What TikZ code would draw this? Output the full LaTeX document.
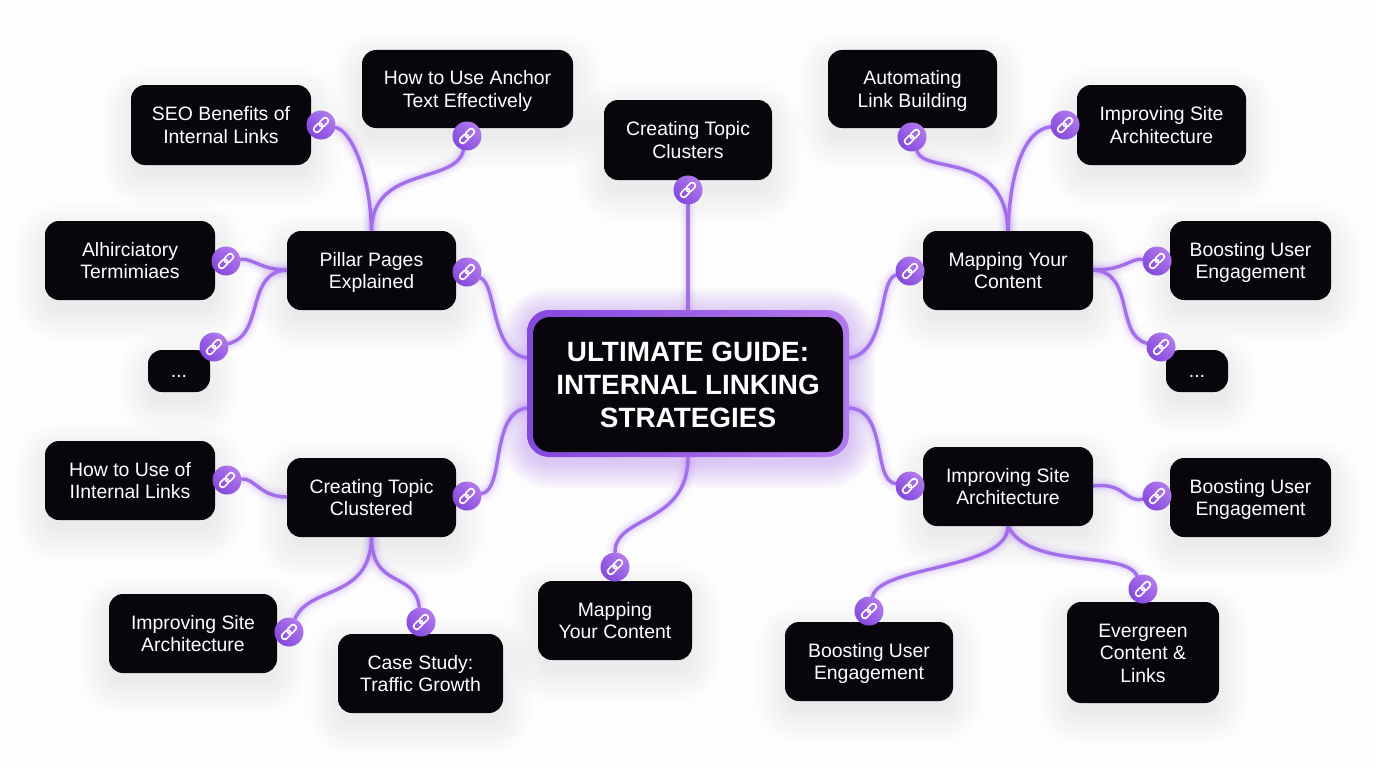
\documentclass[tikz,border=0pt]{standalone}
\usepackage{fontspec}
\setmainfont{Liberation Sans}
\usetikzlibrary{calc,backgrounds}
\pgfdeclarelayer{shadowlayer}
\pgfdeclarelayer{linklayer}
\pgfsetlayers{shadowlayer,linklayer,main}
\definecolor{cardblack}{HTML}{08060C}
\definecolor{linkpurple}{HTML}{A26EEA}
\definecolor{glowpurple}{HTML}{A060F5}
\definecolor{badgeA}{HTML}{8448DC}
\definecolor{badgeB}{HTML}{B27AEE}
\definecolor{pagewhite}{HTML}{FDFDFE}
\tikzset{
  x=1pt,y=-1pt,
  card/.style={fill=cardblack,rounded corners=14pt,inner sep=0pt,align=center,text=white,
    font=\fontsize{19.4}{22.2}\selectfont,text depth=0pt},
  badge/.style={circle,minimum size=29pt,inner sep=0pt,left color=badgeA,right color=badgeB,shading angle=135},
  link/.style={draw=linkpurple,line width=3.4pt,line cap=round,
    preaction={draw=glowpurple,line width=18pt,opacity=.03},
    preaction={draw=glowpurple,line width=14pt,opacity=.04},
    preaction={draw=glowpurple,line width=10pt,opacity=.06},
    preaction={draw=glowpurple,line width=6.5pt,opacity=.10}},
  linkicon/.pic={
    \draw[white,line width=1.6pt,rotate=45,rounded corners=2.6pt] (-9,-3) rectangle (1.2,3);
    \draw[white,line width=1.6pt,rotate=45,rounded corners=2.6pt] (-1.2,-3) rectangle (9,3);
  }
}
\newcommand{\softshadow}[4]{%
  \begin{pgfonlayer}{shadowlayer}
    \foreach \s in {30,28,...,-4}{%
      \pgfmathsetmacro{\rr}{max(8,14+\s)}%
      \fill[black,opacity=.0052,rounded corners=\rr pt]
        (#1-\s,#2-\s+12) rectangle (#3+\s,#4+\s+12);
    }
  \end{pgfonlayer}}
% optional argument: height of the text box above its reference line, which sets the text's vertical place
\newcommand{\carditem}[7][36]{%
  \softshadow{#3}{#4}{#5}{#6}%
  \pgfmathsetmacro{\cw}{#5-#3}\pgfmathsetmacro{\ch}{#6-#4}%
  \node[card,text height=#1pt,minimum width=\cw pt,minimum height=\ch pt] (#2) at ({(#3+#5)/2},{(#4+#6)/2}) {#7};}
\newcommand{\badgeitem}[3]{%
  \node[badge] (#1) at (#2,#3) {};
  \pic at (#1) {linkicon};}
\begin{document}
\begin{tikzpicture}
\useasboundingbox (0,0) rectangle (1376,768);
\begin{pgfonlayer}{shadowlayer}
  \fill[pagewhite] (0,0) rectangle (1376,768);
  \foreach \s in {26,24,...,2}{%
    \pgfmathsetmacro{\rr}{22+\s}%
    \fill[glowpurple,opacity=.026,rounded corners=\rr pt] (527-\s,310-\s+5) rectangle (849+\s,457+\s+5);
  }
\end{pgfonlayer}

% central topic
\node[rounded corners=22pt,minimum width=322pt,minimum height=147pt,inner sep=0pt,
      left color=badgeA,right color=badgeB] (hubframe) at (688,383.5) {};
\node[fill=cardblack,rounded corners=17pt,minimum width=310pt,minimum height=135pt,inner sep=0pt,
      align=center,text=white,font=\fontsize{27.9}{33}\bfseries\selectfont] (hub) at (688,384.5)
      {ULTIMATE GUIDE:\\INTERNAL LINKING\\STRATEGIES};

% cards
\carditem{seo}{131}{85}{311}{165}{SEO Benefits of\\Internal Links}
\carditem{anchor}{362}{50}{573}{128}{How to Use Anchor\\Text Effectively}
\carditem{clusters}{604}{100}{772}{180}{Creating Topic\\Clusters}
\carditem{automating}{828}{50}{997}{128}{Automating\\Link Building}
\carditem{archtop}{1077}{85}{1246}{165}{Improving Site\\Architecture}
\carditem{pillar}{287}{231}{456}{310}{Pillar Pages\\Explained}
\carditem{mapright}{923}{231}{1093}{310}{Mapping Your\\Content}
\carditem{ahir}{45}{221}{215}{300}{Alhirciatory\\Termimiaes}
\carditem[13]{dotsleft}{148}{350}{210}{392}{...}
\carditem{boostup}{1170}{221}{1331}{300}{Boosting User\\Engagement}
\carditem[13]{dotsright}{1166}{350}{1228}{392}{...}
\carditem{howuse}{45}{441}{215}{520}{How to Use of\\IInternal Links}
\carditem{clustered}{287}{458}{456}{537}{Creating Topic\\Clustered}
\carditem{archmid}{923}{447}{1093}{526}{Improving Site\\Architecture}
\carditem{boostmid}{1170}{458}{1331}{537}{Boosting User\\Engagement}
\carditem{archlow}{109}{594}{277}{673}{Improving Site\\Architecture}
\carditem{casestudy}{338}{634}{503}{713}{Case Study:\\Traffic Growth}
\carditem{mapbottom}{538}{581}{692}{660}{Mapping\\Your Content}
\carditem{boostlow}{785}{622}{953}{701}{Boosting User\\Engagement}
\carditem[59]{evergreen}{1067}{602}{1219}{703}{Evergreen\\Content \&\\Links}

% link badges
\badgeitem{bseo}{321}{125}
\badgeitem{banchor}{467}{136}
\badgeitem{bclusters}{688}{190}
\badgeitem{bautomating}{912}{137}
\badgeitem{barchtop}{1065}{125}
\badgeitem{bpillar}{467}{272}
\badgeitem{bmapright}{910}{271}
\badgeitem{bahir}{226}{261}
\badgeitem{bdotsleft}{214}{347}
\badgeitem{bboostup}{1157}{261}
\badgeitem{bdotsright}{1161}{347}
\badgeitem{bhowuse}{227}{480}
\badgeitem{bclustered}{467}{496}
\badgeitem{barchmid}{910}{486}
\badgeitem{bboostmid}{1157}{496}
\badgeitem{barchlow}{289}{632}
\badgeitem{bcasestudy}{421}{622}
\badgeitem{bmapbottom}{615}{567}
\badgeitem{bboostlow}{869}{611}
\badgeitem{bevergreen}{1143}{589}

\coordinate (portNW) at (527,358);
\coordinate (portSW) at (527,408);
\coordinate (portNE) at (849,358);
\coordinate (portSE) at (849,408);
\coordinate (portN) at (688,310);
\coordinate (portS) at (688,457);
\coordinate (pillarW) at (287,270);
\coordinate (mapE) at (1093,270);
\coordinate (clusteredW) at (287,497);
\coordinate (archE) at (1093,486);

\begin{pgfonlayer}{linklayer}
  \draw[link] (portN) -- (bclusters);
  \draw[link] (portS) .. controls (688,525) and (615,515) .. (bmapbottom);
  \draw[link] (portNW) .. controls (490,352) and (497,285) .. (bpillar);
  \draw[link] (portSW) .. controls (490,412) and (505,490) .. (bclustered);
  \draw[link] (portNE) .. controls (888,352) and (878,280) .. (bmapright);
  \draw[link] (portSE) .. controls (888,410) and (872,480) .. (barchmid);
  % pillar pages
  \draw[link] (pillar.north) .. controls (370,170) and (350,130) .. (bseo);
  \draw[link] (pillar.north) .. controls (372,165) and (455,185) .. (banchor);
  \draw[link] (pillarW) .. controls (262,270) and (252,258) .. (bahir);
  \draw[link] (pillarW) .. controls (245,272) and (265,335) .. (bdotsleft);
  % mapping your content
  \draw[link] (mapright.north) .. controls (1005,150) and (925,175) .. (bautomating);
  \draw[link] (mapright.north) .. controls (1010,170) and (1025,130) .. (barchtop);
  \draw[link] (mapE) .. controls (1125,270) and (1130,258) .. (bboostup);
  \draw[link] (mapE) .. controls (1135,272) and (1115,335) .. (bdotsright);
  % creating topic clustered
  \draw[link] (clusteredW) .. controls (260,497) and (255,478) .. (bhowuse);
  \draw[link] (clustered.south) .. controls (370,600) and (310,585) .. (barchlow);
  \draw[link] (clustered.south) .. controls (372,590) and (415,570) .. (bcasestudy);
  % improving site architecture
  \draw[link] (archE) .. controls (1125,482) and (1125,503) .. (bboostmid);
  \draw[link] (archmid.south) .. controls (1008,570) and (880,565) .. (bboostlow);
  \draw[link] (archmid.south) .. controls (1030,570) and (1125,550) .. (bevergreen);
\end{pgfonlayer}
\end{tikzpicture}
\end{document}
